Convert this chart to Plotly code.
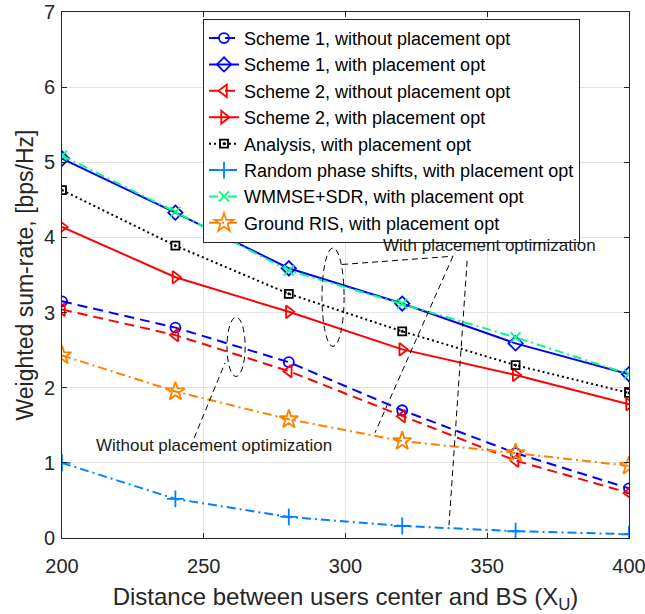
import plotly.graph_objects as go

# Distance between users' center and the BS
distance = [200, 240, 280, 320, 360, 400]

# Weighted sum-rate [bps/Hz] for each scheme
scheme1_without = [3.15, 2.80, 2.34, 1.70, 1.13, 0.66]
scheme1_with = [5.05, 4.33, 3.59, 3.12, 2.59, 2.18]
scheme2_without = [3.04, 2.70, 2.22, 1.62, 1.03, 0.60]
scheme2_with = [4.14, 3.47, 3.01, 2.51, 2.17, 1.78]
analysis_with = [4.63, 3.89, 3.25, 2.75, 2.30, 1.93]
random_with = [1.00, 0.52, 0.28, 0.16, 0.09, 0.05]
wmmse_with = [5.09, 4.34, 3.56, 3.12, 2.67, 2.18]
ground_with = [2.43, 1.95, 1.58, 1.29, 1.13, 0.96]

x_ticks = [200, 250, 300, 350, 400]
y_ticks = [0, 1, 2, 3, 4, 5, 6, 7]

FONT = "Liberation Sans, Arial, Helvetica, sans-serif"

series = [
    ("Scheme 1, without placement opt", scheme1_without, "rgb(0,0,255)", "10px,6px", "circle-open", 10),
    ("Scheme 1, with placement opt", scheme1_with, "rgb(0,0,255)", "solid", "diamond-open", 11),
    ("Scheme 2, without placement opt", scheme2_without, "rgb(255,0,0)", "10px,6px", "triangle-left-open", 11),
    ("Scheme 2, with placement opt", scheme2_with, "rgb(255,0,0)", "solid", "triangle-right-open", 11),
    ("Analysis, with placement opt", analysis_with, "rgb(0,0,0)", "2px,3px", "square-open-dot", 8),
    ("Random phase shifts, with placement opt", random_with, "rgb(0,128,255)", "9px,4px,2px,4px", "cross-thin-open", 12),
    ("WMMSE+SDR, with placement opt", wmmse_with, "rgb(0,255,128)", "9px,4px,2px,4px", "x-thin-open", 10),
    ("Ground RIS, with placement opt", ground_with, "rgb(255,128,0)", "9px,4px,2px,4px", "star-open", 14),
]

fig = go.Figure()
for name, vals, color, dash, symbol, size in series:
    fig.add_trace(go.Scatter(
        x=distance, y=vals, name=name, mode="lines+markers",
        line=dict(color=color, width=2, dash=dash),
        marker=dict(symbol=symbol, size=size, color=color,
                    line=dict(color=color, width=1.8)),
    ))

# Dashed ellipses grouping the curves, with leader lines to their labels
shape_line = dict(color="black", width=1, dash="6px,4px")
shapes = [
    dict(type="circle", xref="x", yref="y", x0=258.2, x1=264.6, y0=2.15, y1=2.94, line=shape_line),
    dict(type="circle", xref="x", yref="y", x0=291.7, x1=299.5, y0=2.55, y1=3.86, line=shape_line),
    dict(type="line", xref="x", yref="y", x0=246.6, y0=1.33, x1=257.5, y1=2.33, line=shape_line),
    dict(type="line", xref="x", yref="y", x0=298.8, y0=3.64, x1=337.9, y1=3.75, line=shape_line),
    dict(type="line", xref="x", yref="y", x0=337.9, y0=3.75, x1=310.4, y1=1.40, line=shape_line),
    dict(type="line", xref="x", yref="y", x0=342.9, y0=3.69, x1=336.5, y1=0.17, line=shape_line),
]

annotations = [
    dict(text="Without placement optimization", x=253.6, y=1.23, xref="x", yref="y",
         showarrow=False, font=dict(family=FONT, size=17, color="#1a1a1a")),
    dict(text="With placement optimization", x=350.8, y=3.89, xref="x", yref="y",
         showarrow=False, font=dict(family=FONT, size=17, color="#1a1a1a")),
]

axis_common = dict(
    showline=True, linecolor="#262626", linewidth=1, mirror="ticks",
    ticks="inside", ticklen=5, tickcolor="#262626", automargin=False,
    ticklabeloverflow="allow",
    showgrid=True, gridcolor="#e3e3e3", gridwidth=1, zeroline=False,
    tickfont=dict(family=FONT, size=20, color="#262626"),
)

fig.update_layout(
    width=645, height=614,
    margin=dict(l=62, r=16, t=12, b=76),
    paper_bgcolor="white", plot_bgcolor="white",
    font=dict(family=FONT, color="#262626"),
    xaxis=dict(range=[200, 400], tickvals=x_ticks, ticklabelstandoff=10,
               title=dict(text="Distance between users center and BS (X<sub>U</sub>)",
                          font=dict(family=FONT, size=24, color="#262626"), standoff=12),
               **axis_common),
    yaxis=dict(range=[0, 7], tickvals=y_ticks, ticklabelstandoff=2,
               title=dict(text="Weighted sum-rate, [bps/Hz]",
                          font=dict(family=FONT, size=23, color="#262626"), standoff=3),
               **axis_common),
    legend=dict(x=0.2487, y=0.987, xanchor="left", yanchor="top",
                bgcolor="white", bordercolor="#262626", borderwidth=1,
                font=dict(family=FONT, size=18, color="#000000"),
                tracegroupgap=0, itemwidth=30),
    shapes=shapes,
    annotations=annotations,
    showlegend=True,
)

fig.write_html("out.html")
